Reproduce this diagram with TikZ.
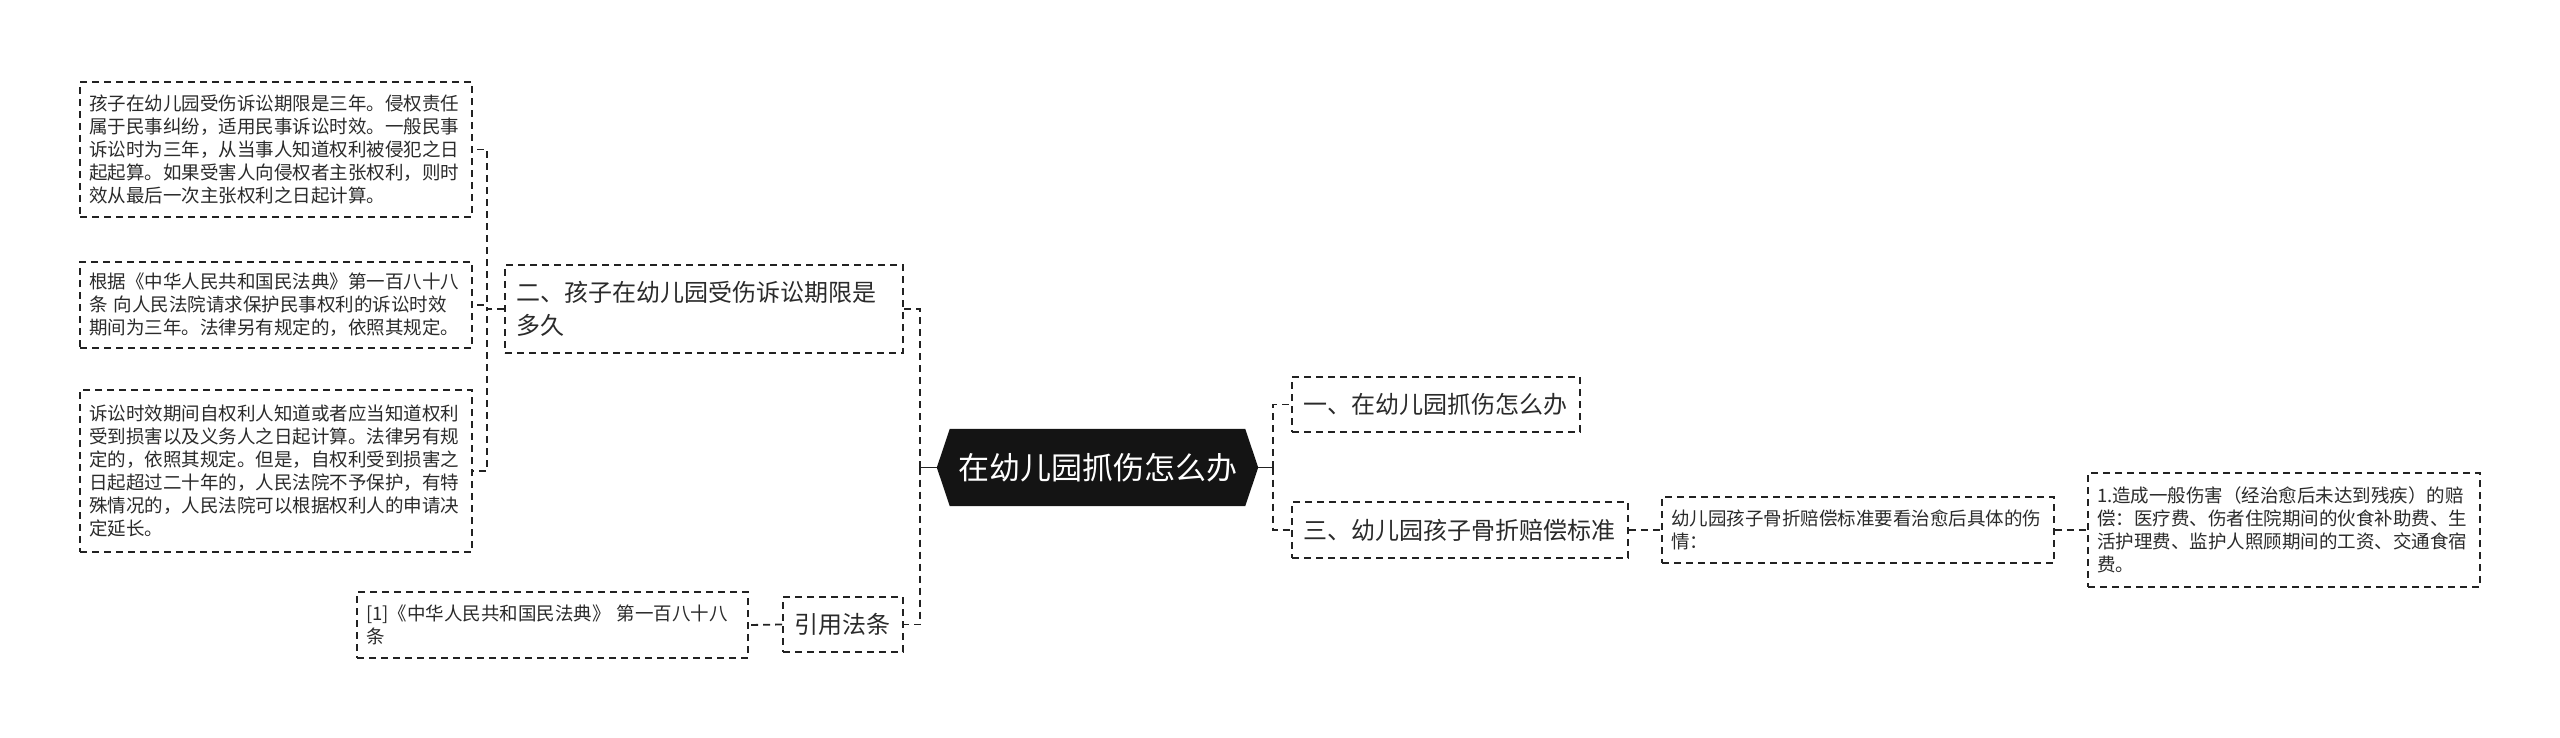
\documentclass[tikz,border=0pt]{standalone}
\usepackage{fontspec}
\newfontfamily\cjk{Noto Sans CJK SC}
\usetikzlibrary{backgrounds}
\definecolor{lc}{HTML}{222222}
\definecolor{tc}{HTML}{2A2A2A}
\begin{document}
\begin{tikzpicture}[x=1pt,y=-1pt,
  conn/.style={draw=lc, line width=1.8pt, dash pattern=on 7pt off 5pt},
  bx/.style={draw=lc, line width=1.8pt, dash pattern=on 7pt off 5pt, text=tc, align=left, inner ysep=0pt},
  sm/.style={bx, font=\cjk\fontsize{18.5}{23}\selectfont, inner xsep=9pt, text width=374pt},
  lg/.style={bx, font=\cjk\fontsize{24}{33}\selectfont, inner xsep=11pt},
]
\useasboundingbox (0,0) rectangle (2560,738);

% left texts
\node[sm, minimum height=135pt] (A) at (276,149.5) {孩子在幼儿园受伤诉讼期限是三年。侵权责任\\属于民事纠纷，适用民事诉讼时效。一般民事\\诉讼时为三年，从当事人知道权利被侵犯之日\\起起算。如果受害人向侵权者主张权利，则时\\效从最后一次主张权利之日起计算。};
\node[sm, minimum height=86pt] (B) at (276,305) {根据《中华人民共和国民法典》第一百八十八\\条 向人民法院请求保护民事权利的诉讼时效\\期间为三年。法律另有规定的，依照其规定。};
\node[sm, minimum height=162pt] (C) at (276,471) {诉讼时效期间自权利人知道或者应当知道权利\\受到损害以及义务人之日起计算。法律另有规\\定的，依照其规定。但是，自权利受到损害之\\日起超过二十年的，人民法院不予保护，有特\\殊情况的，人民法院可以根据权利人的申请决\\定延长。};

\node[lg, text width=376pt, minimum height=88pt] (n2) at (704,309) {二、孩子在幼儿园受伤诉讼期限是\\多久};
\node[lg, text width=98pt, minimum height=55pt] (ref) at (843,624.5) {引用法条};
\node[sm, text width=373pt, minimum height=66pt] (ref1) at (552.5,625) {[1]《中华人民共和国民法典》 第一百八十八\\条};

% root
\node[font=\cjk\fontsize{31}{36}\selectfont, text=white, minimum width=295pt, minimum height=77pt, inner sep=0pt] (root) at (1097.5,467.5) {在幼儿园抓伤怎么办};
\begin{scope}[on background layer]
\fill[black!92] (root.north west) -- (root.north east) -- ([xshift=13pt]root.east) -- (root.south east) -- (root.south west) -- ([xshift=-13pt]root.west) -- cycle;
\end{scope}

% right side
\node[lg, text width=266pt, minimum height=55pt] (n1) at (1436,404.5) {一、在幼儿园抓伤怎么办};
\node[lg, text width=314pt, minimum height=56pt] (n3) at (1460,530) {三、幼儿园孩子骨折赔偿标准};
\node[sm, minimum height=66pt] (D) at (1858,530) {幼儿园孩子骨折赔偿标准要看治愈后具体的伤\\情：};
\node[sm, minimum height=114pt] (E) at (2284,530) {1.造成一般伤害（经治愈后未达到残疾）的赔\\偿：医疗费、伤者住院期间的伙食补助费、生\\活护理费、监护人照顾期间的工资、交通食宿\\费。};

% connectors
\coordinate (rL) at (920,467.5);
\coordinate (rR) at (1273,467.5);
\draw[draw=lc, line width=1.8pt] ([xshift=-13pt]root.west) -- (rL);
\draw[draw=lc, line width=1.8pt] ([xshift=13pt]root.east) -- (rR);
\draw[conn] (rL) |- (n2.east);
\draw[conn] (rL) |- (ref.east);
\draw[conn] (rR) |- (n1.west);
\draw[conn] (rR) |- (n3.west);
\draw[conn] (n2.west) -- ++(-17,0) |- (A.east);
\draw[conn] (n2.west) -- ++(-17,0) |- (B.east);
\draw[conn] (n2.west) -- ++(-17,0) |- (C.east);
\draw[conn] (ref.west) -- (ref1.east);
\draw[conn] (n3.east) -- (D.west);
\draw[conn] (D.east) -- (E.west);
\end{tikzpicture}
\end{document}
